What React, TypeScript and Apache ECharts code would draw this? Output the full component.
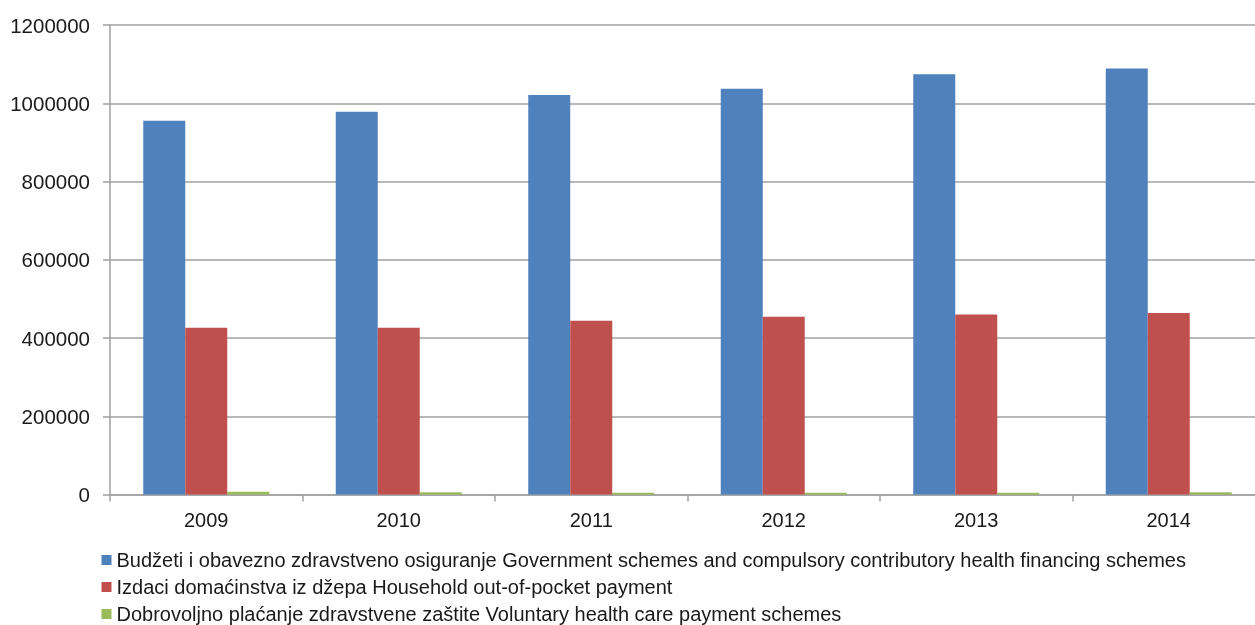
import React, { useEffect, useRef } from "react";
import * as echarts from "echarts";

const categories = ["2009", "2010", "2011", "2012", "2013", "2014"];
const seriesNames = [
  "Budžeti i obavezno zdravstveno osiguranje Government schemes and compulsory contributory health financing schemes",
  "Izdaci domaćinstva iz džepa Household out-of-pocket payment",
  "Dobrovoljno plaćanje zdravstvene zaštite Voluntary health care payment schemes",
];
const government = [955000, 978000, 1021000, 1037000, 1074000, 1089000];
const household = [426000, 426000, 444000, 454000, 460000, 464000];
const voluntary = [7000, 5500, 4300, 4300, 4300, 6000];
const colors = ["#4F81BD", "#C0504D", "#9BBB59"];

export default function App() {
  const ref = useRef<HTMLDivElement>(null);
  useEffect(() => {
    document.body.style.margin = "0";
    document.body.style.overflow = "hidden";
    const chart = echarts.init(ref.current!, null, { renderer: "svg" });
    const font = "'Liberation Sans', Arial, sans-serif";
    chart.setOption({
      animation: false,
      color: colors,
      textStyle: { fontFamily: font },
      grid: { left: 110, top: 25, bottom: 130.5, right: 0 },
      legend: {
        orient: "vertical",
        left: 101.5,
        top: 550,
        padding: 0,
        icon: "rect",
        itemWidth: 10,
        itemHeight: 10,
        itemGap: 7,
        textStyle: { fontSize: 20, color: "#1a1a1a", lineHeight: 20, fontFamily: font, padding: 0 },
        data: seriesNames,
      },
      xAxis: {
        type: "category",
        data: categories,
        axisLine: { lineStyle: { color: "#a0a0a0", width: 1.5 } },
        axisTick: { show: true, length: 7, lineStyle: { color: "#a0a0a0", width: 1.5 } },
        axisLabel: { fontSize: 20, color: "#1a1a1a", margin: 15, fontFamily: font },
      },
      yAxis: {
        type: "value",
        min: 0,
        max: 1200000,
        interval: 200000,
        axisLine: { show: true, lineStyle: { color: "#a0a0a0", width: 1.5 } },
        axisTick: { show: true, length: 7, lineStyle: { color: "#a0a0a0", width: 1.5 } },
        splitLine: { lineStyle: { color: "#a0a0a0", width: 1.5 } },
        axisLabel: {
          fontSize: 20.5,
          color: "#1a1a1a",
          margin: 20,
          fontFamily: font,
          formatter: (v: number) => String(v),
        },
      },
      series: [
        { name: seriesNames[0], type: "bar", data: government, barWidth: 42, barGap: "0%" },
        { name: seriesNames[1], type: "bar", data: household, barWidth: 42, barGap: "0%" },
        { name: seriesNames[2], type: "bar", data: voluntary, barWidth: 42, barGap: "0%" },
      ],
    });
    return () => chart.dispose();
  }, []);
  return (
    <div
      ref={ref}
      style={{ position: "fixed", left: 0, top: 0, width: 1264.5, height: 625 }}
    />
  );
}
